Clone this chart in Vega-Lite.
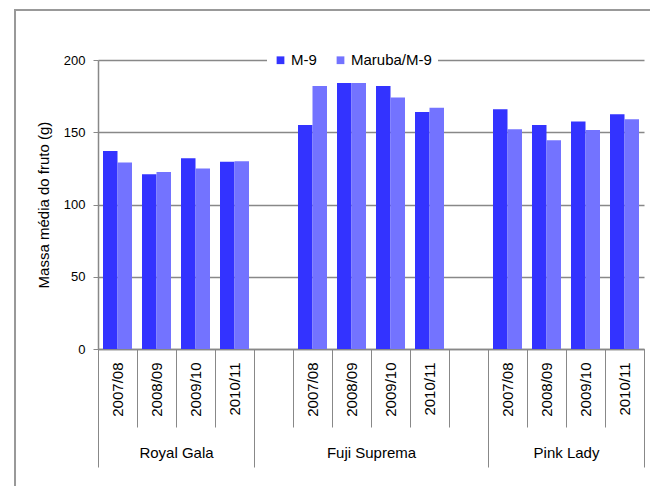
{
  "$schema": "https://vega.github.io/schema/vega-lite/v6.json",
  "width": 546,
  "height": 289,
  "autosize": {"type": "none"},
  "padding": {"left": 98, "top": 60, "right": 6, "bottom": 137},
  "background": "white",
  "config": {
    "font": "Liberation Sans",
    "view": {"stroke": null},
    "axis": {
      "domainColor": "#888888",
      "tickColor": "#888888",
      "gridColor": "#888888",
      "labelColor": "#000000",
      "titleColor": "#000000",
      "labelFont": "Liberation Sans",
      "titleFont": "Liberation Sans",
      "titleFontWeight": "normal"
    }
  },
  "resolve": {"scale": {"x": "independent"}},
  "layer": [
    {
      "data": {"values": [{}]},
      "mark": {"type": "rect", "fillOpacity": 0, "stroke": "#999999", "strokeWidth": 2, "clip": false},
      "encoding": {
        "x": {
          "datum": -2.128,
          "type": "quantitative",
          "scale": {"domain": [0, 14], "nice": false, "zero": false},
          "axis": {
            "orient": "bottom",
            "title": null,
            "values": [0, 2, 4, 7, 10, 12, 14],
            "domain": false,
            "grid": false,
            "tickSize": 118,
            "tickColor": "#888888",
            "tickOpacity": {"condition": {"test": "datum.value == 2 || datum.value == 7 || datum.value == 12", "value": 0}, "value": 1},
            "labelExpr": "datum.value == 2 ? 'Royal Gala' : datum.value == 7 ? 'Fuji Suprema' : datum.value == 12 ? 'Pink Lady' : ''",
            "labelAngle": 0,
            "labelAlign": "center",
            "labelBaseline": "middle",
            "labelPadding": -15,
            "labelFontSize": 15,
            "labelFlush": false,
            "labelOverlap": false
          }
        },
        "x2": {"datum": 14.6},
        "y": {"datum": 234.6, "type": "quantitative", "scale": {"domain": [0, 200]}},
        "y2": {"datum": -110}
      }
    },
    {
      "data": {
        "values": [
          {"cultivar": "Royal Gala", "season": "2007/08", "cat": "Royal Gala|2007/08", "series": "M-9", "value": 137},
          {"cultivar": "Royal Gala", "season": "2007/08", "cat": "Royal Gala|2007/08", "series": "Maruba/M-9", "value": 129},
          {"cultivar": "Royal Gala", "season": "2008/09", "cat": "Royal Gala|2008/09", "series": "M-9", "value": 121},
          {"cultivar": "Royal Gala", "season": "2008/09", "cat": "Royal Gala|2008/09", "series": "Maruba/M-9", "value": 122.5},
          {"cultivar": "Royal Gala", "season": "2009/10", "cat": "Royal Gala|2009/10", "series": "M-9", "value": 132},
          {"cultivar": "Royal Gala", "season": "2009/10", "cat": "Royal Gala|2009/10", "series": "Maruba/M-9", "value": 125},
          {"cultivar": "Royal Gala", "season": "2010/11", "cat": "Royal Gala|2010/11", "series": "M-9", "value": 129.5},
          {"cultivar": "Royal Gala", "season": "2010/11", "cat": "Royal Gala|2010/11", "series": "Maruba/M-9", "value": 130},
          {"cultivar": "Fuji Suprema", "season": "2007/08", "cat": "Fuji Suprema|2007/08", "series": "M-9", "value": 155},
          {"cultivar": "Fuji Suprema", "season": "2007/08", "cat": "Fuji Suprema|2007/08", "series": "Maruba/M-9", "value": 182},
          {"cultivar": "Fuji Suprema", "season": "2008/09", "cat": "Fuji Suprema|2008/09", "series": "M-9", "value": 184},
          {"cultivar": "Fuji Suprema", "season": "2008/09", "cat": "Fuji Suprema|2008/09", "series": "Maruba/M-9", "value": 184},
          {"cultivar": "Fuji Suprema", "season": "2009/10", "cat": "Fuji Suprema|2009/10", "series": "M-9", "value": 182},
          {"cultivar": "Fuji Suprema", "season": "2009/10", "cat": "Fuji Suprema|2009/10", "series": "Maruba/M-9", "value": 174},
          {"cultivar": "Fuji Suprema", "season": "2010/11", "cat": "Fuji Suprema|2010/11", "series": "M-9", "value": 164},
          {"cultivar": "Fuji Suprema", "season": "2010/11", "cat": "Fuji Suprema|2010/11", "series": "Maruba/M-9", "value": 167},
          {"cultivar": "Pink Lady", "season": "2007/08", "cat": "Pink Lady|2007/08", "series": "M-9", "value": 166},
          {"cultivar": "Pink Lady", "season": "2007/08", "cat": "Pink Lady|2007/08", "series": "Maruba/M-9", "value": 152},
          {"cultivar": "Pink Lady", "season": "2008/09", "cat": "Pink Lady|2008/09", "series": "M-9", "value": 155},
          {"cultivar": "Pink Lady", "season": "2008/09", "cat": "Pink Lady|2008/09", "series": "Maruba/M-9", "value": 144.5},
          {"cultivar": "Pink Lady", "season": "2009/10", "cat": "Pink Lady|2009/10", "series": "M-9", "value": 157.5},
          {"cultivar": "Pink Lady", "season": "2009/10", "cat": "Pink Lady|2009/10", "series": "Maruba/M-9", "value": 151.5},
          {"cultivar": "Pink Lady", "season": "2010/11", "cat": "Pink Lady|2010/11", "series": "M-9", "value": 162.5},
          {"cultivar": "Pink Lady", "season": "2010/11", "cat": "Pink Lady|2010/11", "series": "Maruba/M-9", "value": 159}
        ]
      },
      "mark": {"type": "bar"},
      "encoding": {
        "x": {
          "field": "cat",
          "type": "nominal",
          "scale": {
            "domain": ["Royal Gala|2007/08", "Royal Gala|2008/09", "Royal Gala|2009/10", "Royal Gala|2010/11", "gap1", "Fuji Suprema|2007/08", "Fuji Suprema|2008/09", "Fuji Suprema|2009/10", "Fuji Suprema|2010/11", "gap2", "Pink Lady|2007/08", "Pink Lady|2008/09", "Pink Lady|2009/10", "Pink Lady|2010/11"],
            "paddingInner": 0,
            "paddingOuter": 0
          },
          "axis": {
            "orient": "bottom",
            "title": null,
            "tickBand": "extent",
            "tickSize": 78,
            "tickColor": "#888888",
            "domainColor": "#888888",
            "domainWidth": 1.5,
            "grid": false,
            "labelAngle": -90,
            "labelAlign": "right",
            "labelBaseline": "middle",
            "labelPadding": -65,
            "labelFontSize": 15,
            "labelExpr": "indexof(datum.label, '|') >= 0 ? split(datum.label, '|')[1] : ''"
          }
        },
        "xOffset": {
          "field": "series",
          "scale": {"domain": ["M-9", "Maruba/M-9"], "paddingInner": 0, "paddingOuter": 0.345}
        },
        "y": {
          "field": "value",
          "type": "quantitative",
          "scale": {"domain": [0, 200]},
          "axis": {
            "title": "Massa média do fruto (g)",
            "values": [0, 50, 100, 150, 200],
            "tickSize": 5,
            "labelPadding": 8,
            "labelFontSize": 13,
            "titleFontSize": 15,
            "titlePadding": 12,
            "grid": true,
            "gridWidth": 1.5,
            "domainWidth": 1.5
          }
        },
        "color": {
          "field": "series",
          "type": "nominal",
          "scale": {"domain": ["M-9", "Maruba/M-9"], "range": ["#3333ff", "#7373ff"]},
          "legend": {
            "title": null,
            "orient": "none",
            "legendX": 169,
            "legendY": -13.5,
            "direction": "horizontal",
            "symbolType": "square",
            "symbolSize": 60,
            "symbolStrokeWidth": 0,
            "labelFontSize": 15,
            "labelColor": "#000000",
            "labelOffset": 3,
            "columnPadding": 16,
            "fillColor": "white",
            "padding": 6
          }
        }
      }
    }
  ]
}
